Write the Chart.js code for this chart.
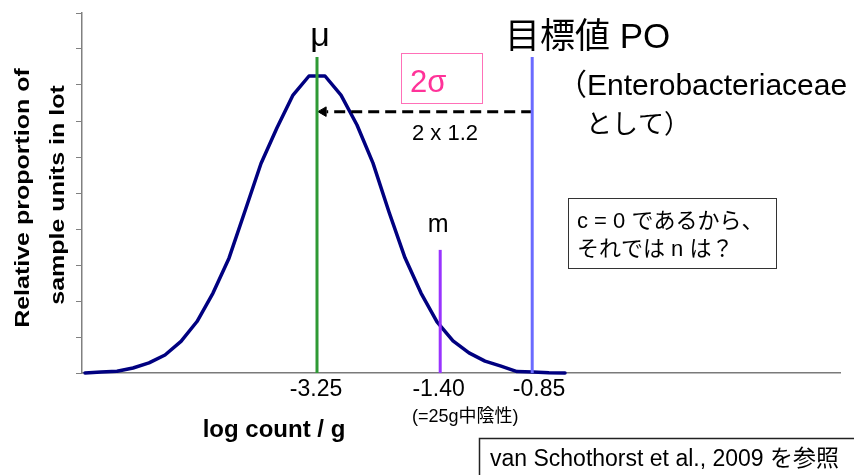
<!DOCTYPE html>
<html>
<head>
<meta charset="utf-8">
<script src="https://cdn.jsdelivr.net/npm/chart.js@4.4.1/dist/chart.umd.min.js"></script>
<style>
  body { margin: 0; background: #fff; }
  #wrap { width: 854px; height: 475px; position: relative; }
</style>
</head>
<body>
<div id="wrap"><canvas id="curve" width="854" height="475"></canvas></div>
<script>
// curve heights, one per step along the x axis
const curveY = [0.00, 0.03, 0.05, 0.14, 0.28, 0.50, 0.88, 1.43, 2.22, 3.19, 4.50, 5.82, 6.81, 7.72, 8.25,
                8.25, 7.72, 6.89, 5.83, 4.47, 3.20, 2.22, 1.42, 0.89, 0.56, 0.33, 0.19, 0.04, 0.03, 0.01, 0.00];

// vertical marker lines: mu, m, PO
const markerPos = [14.5, 22.2, 27.95];
const markerTop = [8.78, 3.42, 8.78];

// x tick labels (schematic, not to scale)
const tickPos = [14.44, 22.1, 28.375];
const tickLabels = ['-3.25', '-1.40', '-0.85'];

// 2 sigma arrow, from PO back to mu
const arrowY = 7.26;
const arrowFrom = 27.95;
const arrowTo = 15.1;
const arrowHead = 14.9;

const markerColors = ['#2e9a35', '#9933ff', '#6b6bff'];
const FONT = '"Liberation Sans", Arial, "Noto Sans CJK JP", sans-serif';

const datasets = [];
markerPos.forEach((p, i) => {
    datasets.push({
        data: [{ x: p, y: 0 }, { x: p, y: markerTop[i] }],
        borderColor: markerColors[i],
        borderWidth: 3,
        pointRadius: 0,
        order: 0
    });
});
datasets.push({
    data: [{ x: arrowFrom, y: arrowY }, { x: arrowTo, y: arrowY }],
    borderColor: '#000',
    borderWidth: 3,
    borderDash: [11, 6],
    pointRadius: 0,
    order: 0
});
datasets.push({
    data: [{ x: arrowHead, y: arrowY }],
    showLine: false,
    pointStyle: 'triangle',
    rotation: 270,
    pointRadius: 5.5,
    backgroundColor: '#000',
    borderColor: '#000',
    borderWidth: 1,
    order: 0
});
datasets.push({
    data: curveY.map((v, i) => ({ x: i, y: v })),
    borderColor: '#000080',
    borderWidth: 3.5,
    tension: 0,
    pointRadius: 0,
    borderJoinStyle: 'round',
    borderCapStyle: 'round',
    clip: false,
    order: 1
});

function text(ctx, s, x, y, size, opts) {
    opts = opts || {};
    ctx.save();
    ctx.font = (opts.bold ? 'bold ' : '') + size + 'px ' + FONT;
    ctx.fillStyle = opts.color || '#000';
    ctx.textAlign = opts.align || 'left';
    ctx.textBaseline = 'alphabetic';
    ctx.fillText(s, x, y);
    ctx.restore();
}

const annotations = {
    id: 'annotations',
    afterDraw(chart) {
        const ctx = chart.ctx;
        const xs = chart.scales.x;

        // mu and m labels sit over their lines
        text(ctx, 'μ', xs.getPixelForValue(markerPos[0]) + 3, 46, 34, { align: 'center' });
        text(ctx, 'm', xs.getPixelForValue(markerPos[1]) - 2, 232, 25, { align: 'center' });

        // PO heading
        text(ctx, '目標値 PO', 505, 48, 35);
        text(ctx, '（Enterobacteriaceae', 557, 95, 30);
        text(ctx, 'として）', 586, 133, 26);

        // 2 sigma box
        ctx.save();
        ctx.strokeStyle = '#ff70b8';
        ctx.lineWidth = 1;
        ctx.strokeRect(401.5, 53.5, 81, 50);
        ctx.restore();
        text(ctx, '2σ', 410, 92, 31, { color: '#ff3399' });
        text(ctx, '2 x 1.2', 445, 140, 22, { align: 'center' });

        // question box
        ctx.save();
        ctx.strokeStyle = '#333';
        ctx.lineWidth = 1;
        ctx.strokeRect(568.5, 198.5, 208, 70);
        ctx.restore();
        text(ctx, 'c = 0 であるから、', 577, 228, 22);
        text(ctx, 'それでは n は？', 577, 256, 22);

        // under the ticks
        text(ctx, '(=25g中陰性)', 412, 422, 18);
        text(ctx, 'log count / g', 274, 437, 24, { bold: true, align: 'center' });

        // reference box, cut by the page edge
        ctx.save();
        ctx.strokeStyle = '#222';
        ctx.lineWidth = 1.5;
        ctx.strokeRect(479.5, 438.5, 420, 80);
        ctx.restore();
        text(ctx, 'van Schothorst et al., 2009 を参照', 490, 466, 23);

        // y title, two rotated lines, a little narrow
        [['Relative proportion of', 29, 198], ['sample units in lot', 64, 195]].forEach(l => {
            ctx.save();
            ctx.translate(l[1], l[2]);
            ctx.rotate(-Math.PI / 2);
            ctx.scale(1, 0.78);
            text(ctx, l[0], 0, 0, 25, { bold: true, align: 'center' });
            ctx.restore();
        });
    }
};

new Chart(document.getElementById('curve'), {
    type: 'scatter',
    data: { datasets: datasets },
    options: {
        responsive: false,
        animation: false,
        events: [],
        showLine: true,
        layout: { padding: { top: 13, right: 14, left: 0, bottom: 0 } },
        plugins: { legend: { display: false }, tooltip: { enabled: false } },
        scales: {
            x: {
                type: 'linear',
                min: -0.1875,
                max: 47.1875,
                afterBuildTicks: s => { s.ticks = tickPos.map(v => ({ value: v })); },
                afterFit: s => { s.height = 102; },
                ticks: {
                    autoSkip: false,
                    maxRotation: 0,
                    padding: 3,
                    color: '#000',
                    font: { family: FONT, size: 23 },
                    callback: (v, i) => tickLabels[i]
                },
                grid: { display: false, drawTicks: false },
                border: { display: true, color: '#7a7a7a', width: 1.5 }
            },
            y: {
                min: 0,
                max: 10,
                afterFit: s => { s.width = 82; },
                ticks: { display: false, stepSize: 1 },
                grid: { drawOnChartArea: false, drawTicks: true, tickLength: 6, color: '#808080', lineWidth: 1 },
                border: { display: true, color: '#808080', width: 1.5 }
            }
        }
    },
    plugins: [annotations]
});
</script>
</body>
</html>
